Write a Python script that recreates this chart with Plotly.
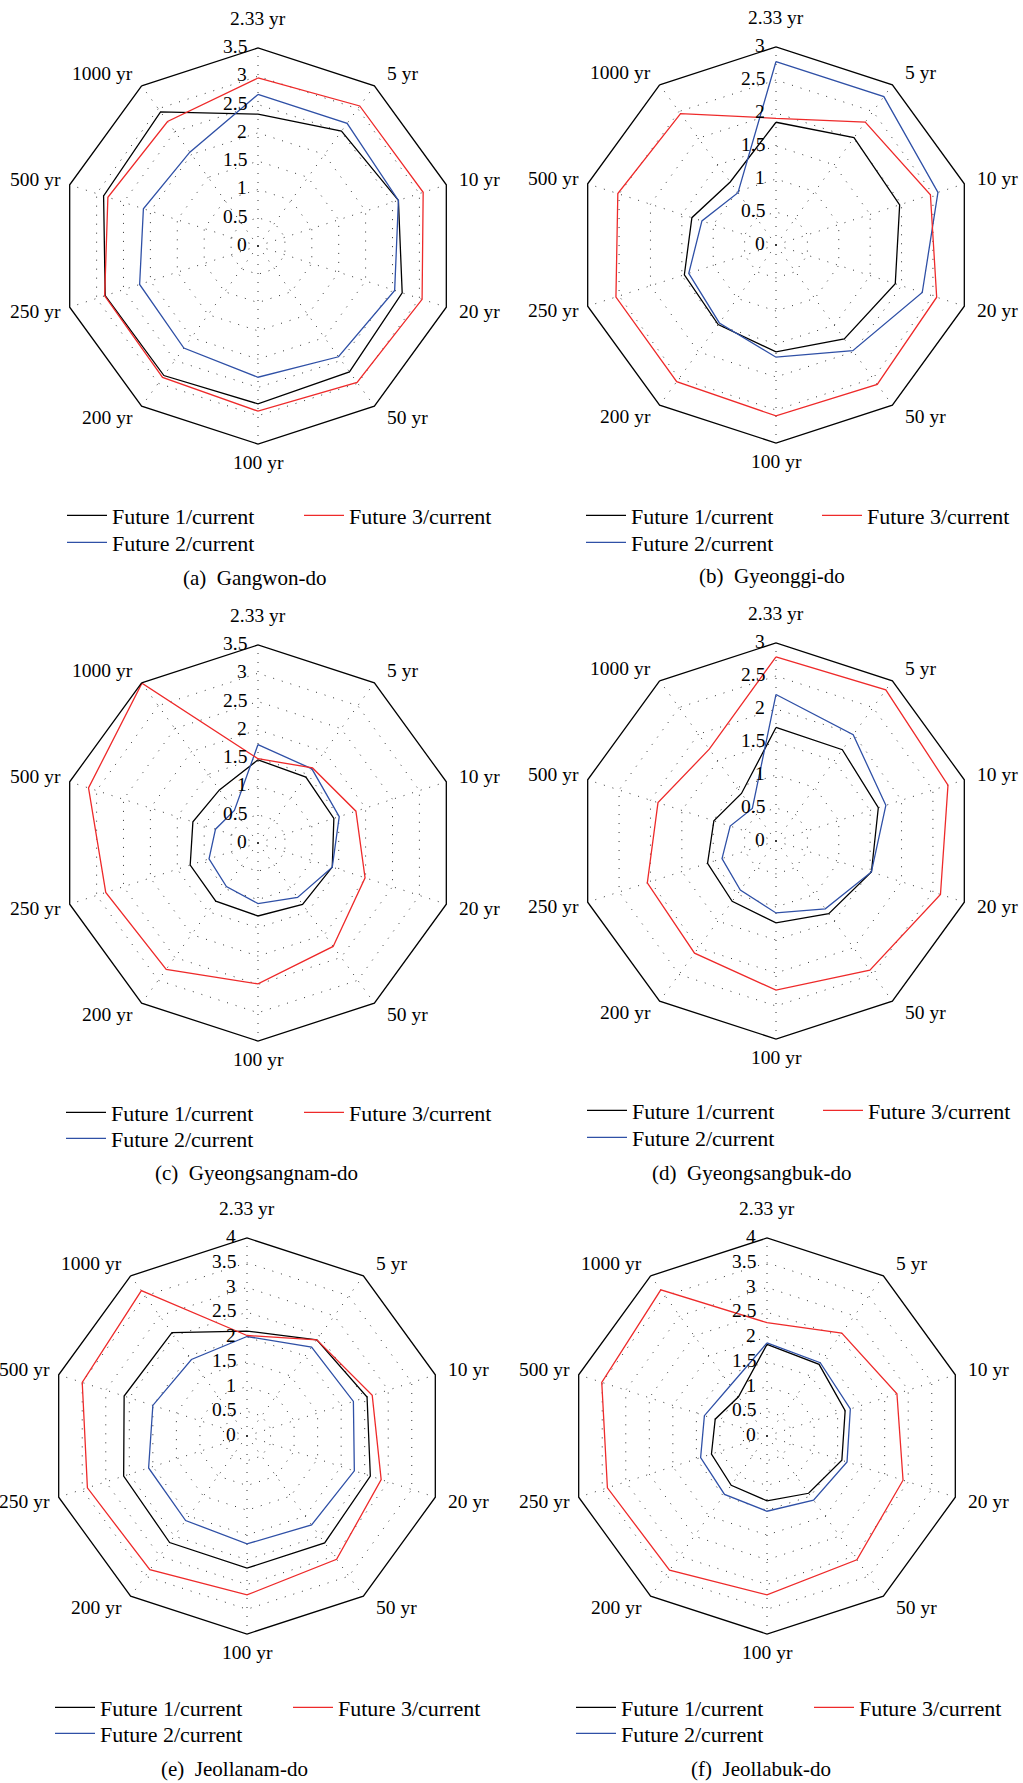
import math
import plotly.graph_objects as go

# ---------------- data ----------------
periods = ["2.33 yr", "5 yr", "10 yr", "20 yr", "50 yr", "100 yr",
           "200 yr", "250 yr", "500 yr", "1000 yr"]
series_names = ["Future 1/current", "Future 2/current", "Future 3/current"]

gangwon_f1 = [2.33, 2.51, 2.61, 2.68, 2.75, 2.79, 2.83, 2.84, 2.87, 2.93]
gangwon_f2 = [2.68, 2.68, 2.61, 2.54, 2.42, 2.32, 2.23, 2.20, 2.13, 2.05]
gangwon_f3 = [2.97, 3.06, 3.07, 3.05, 2.98, 2.92, 2.87, 2.85, 2.79, 2.72]

gyeonggi_f1 = [1.86, 2.01, 1.97, 1.90, 1.76, 1.62, 1.49, 1.46, 1.34, 1.18]
gyeonggi_f2 = [2.78, 2.78, 2.58, 2.33, 1.98, 1.70, 1.46, 1.39, 1.18, 0.98]
gyeonggi_f3 = [1.92, 2.30, 2.46, 2.56, 2.61, 2.59, 2.56, 2.55, 2.52, 2.46]

gyeongsangnam_f1 = [1.47, 1.44, 1.41, 1.38, 1.34, 1.29, 1.27, 1.26, 1.21, 1.16]
gyeongsangnam_f2 = [1.74, 1.62, 1.51, 1.38, 1.19, 1.07, 0.95, 0.91, 0.79, 0.71]
gyeongsangnam_f3 = [1.49, 1.64, 1.82, 1.99, 2.26, 2.49, 2.76, 2.83, 3.15, 3.49]

gyeongsangbuk_f1 = [1.72, 1.71, 1.63, 1.52, 1.36, 1.24, 1.13, 1.09, 0.99, 0.89]
gyeongsangbuk_f2 = [2.22, 1.99, 1.75, 1.52, 1.27, 1.09, 0.92, 0.86, 0.73, 0.61]
gyeongsangbuk_f3 = [2.79, 2.83, 2.74, 2.62, 2.42, 2.26, 2.10, 2.05, 1.88, 1.72]

jeollanam_f1 = [2.12, 2.40, 2.55, 2.62, 2.67, 2.67, 2.66, 2.62, 2.61, 2.58]
jeollanam_f2 = [2.01, 2.22, 2.26, 2.28, 2.22, 2.18, 2.11, 2.09, 2.00, 1.91]
jeollanam_f3 = [2.03, 2.40, 2.66, 2.85, 3.08, 3.21, 3.34, 3.39, 3.50, 3.63]

jeollabuk_f1 = [1.85, 1.79, 1.66, 1.59, 1.43, 1.31, 1.23, 1.18, 1.10, 0.98]
jeollabuk_f2 = [1.88, 1.83, 1.77, 1.70, 1.60, 1.52, 1.46, 1.41, 1.33, 1.26]
jeollabuk_f3 = [2.29, 2.57, 2.76, 2.89, 3.09, 3.21, 3.35, 3.39, 3.51, 3.65]

captions = ["(a)  Gangwon-do", "(b)  Gyeonggi-do", "(c)  Gyeongsangnam-do",
            "(d)  Gyeongsangbuk-do", "(e)  Jeollanam-do", "(f)  Jeollabuk-do"]
radial_max = [3.5, 3, 3.5, 3, 4, 4]
radial_step = 0.5

panel_values = [
    (gangwon_f1, gangwon_f2, gangwon_f3),
    (gyeonggi_f1, gyeonggi_f2, gyeonggi_f3),
    (gyeongsangnam_f1, gyeongsangnam_f2, gyeongsangnam_f3),
    (gyeongsangbuk_f1, gyeongsangbuk_f2, gyeongsangbuk_f3),
    (jeollanam_f1, jeollanam_f2, jeollanam_f3),
    (jeollabuk_f1, jeollabuk_f2, jeollabuk_f3),
]

# ---------------- layout geometry (pixels) ----------------
W, H = 1023, 1783
R = 198            # radius of outer polygon
TEXT_DY = 0.5      # small visual-centre correction for serif text
centers = [(258, 246), (776, 245), (258, 843), (776, 841), (247, 1436), (767, 1436)]
legend_pos = [(68, 305, 516, 543), (587, 823, 516, 543),
              (67, 305, 1113, 1139), (588, 824, 1111, 1138),
              (56, 294, 1708, 1734), (577, 815, 1708, 1734)]
caption_pos = [(254, 578), (772, 577), (256, 1173), (751, 1173), (234, 1769), (761, 1769)]

colors = ["#000000", "#2f50a6", "#ee2a2a"]
SERIF = "Liberation Serif, Times New Roman, serif"


def px_to_paper(x, y):
    return x / W, 1 - (y - TEXT_DY) / H


def fmt(v):
    return f"{v:g}"


fig = go.Figure()
layout_extra = {}
annotations = []
legend_idx = 0
for p in range(6):
    pname = "polar" if p == 0 else f"polar{p+1}"
    cx, cy = centers[p]
    rmax = radial_max[p]
    layout_extra[pname] = dict(
        domain=dict(x=[(cx - R) / W, (cx + R) / W],
                    y=[1 - (cy + R) / H, 1 - (cy - R) / H]),
        gridshape="linear",
        bgcolor="rgba(0,0,0,0)",
        radialaxis=dict(
            range=[0, rmax], dtick=radial_step, tick0=0,
            angle=90, showline=False, ticks="", showticklabels=False,
            showgrid=True, gridcolor="#333333", griddash="1px,8px", gridwidth=1,
            layer="above traces",
        ),
        angularaxis=dict(
            type="category", categoryarray=periods, categoryorder="array",
            direction="clockwise", rotation=90,
            showline=True, linecolor="#000", linewidth=1.3,
            showgrid=True, gridcolor="#333333", griddash="1px,8px", gridwidth=1,
            ticks="", showticklabels=False,
        ),
    )
    # radial tick labels, left of the vertical (2.33 yr) axis, one per grid ring
    nsteps = int(round(rmax / radial_step))
    for j in range(nsteps + 1):
        v = j * radial_step
        ty = cy - R * v / rmax
        ax_, ay_ = px_to_paper(cx - 9, ty - 1)
        annotations.append(dict(
            text=fmt(v), x=ax_, y=ay_, xref="paper", yref="paper",
            xanchor="right", yanchor="middle", showarrow=False,
            font=dict(family=SERIF, size=19.5, color="#000"),
        ))
    # category labels around the polygon, placed next to each axis vertex
    n = len(periods)
    for i, lab in enumerate(periods):
        ang = 2 * math.pi * i / n
        s, c = math.sin(ang), math.cos(ang)
        vx, vy = cx + R * s, cy - R * c
        if abs(s) < 0.1:
            xa, lx = "center", vx
            ly = vy - 29 if c > 0 else vy + 19
        elif s > 0:
            xa, lx, ly = "left", vx + 11, vy - 15 * c
        else:
            xa, lx, ly = "right", vx - 7, vy - 15 * c
        ax_, ay_ = px_to_paper(lx, ly)
        annotations.append(dict(
            text=lab, x=ax_, y=ay_, xref="paper", yref="paper",
            xanchor=xa, yanchor="middle", showarrow=False,
            font=dict(family=SERIF, size=19.5, color="#000"),
        ))

    lx1, lx2, ly1, ly2 = legend_pos[p]
    slots = [(lx1, ly1), (lx1, ly2), (lx2, ly1)]
    for k in range(3):
        vals = list(panel_values[p][k])
        legend_idx += 1
        lname = "legend" if legend_idx == 1 else f"legend{legend_idx}"
        fig.add_trace(go.Scatterpolar(
            r=vals + vals[:1], theta=periods + periods[:1],
            mode="lines", line=dict(color=colors[k], width=1.3),
            name=series_names[k], subplot=pname, legend=lname,
            showlegend=True,
        ))
        sx, sy = slots[k]
        layout_extra[lname] = dict(
            x=(sx - 6) / W, y=1 - (sy - TEXT_DY) / H, xanchor="left", yanchor="middle",
            orientation="v", bgcolor="rgba(0,0,0,0)", borderwidth=0,
            itemwidth=40, font=dict(family=SERIF, size=22, color="#000"),
        )
    ax_, ay_ = px_to_paper(*caption_pos[p])
    annotations.append(dict(
        text=captions[p], x=ax_, y=ay_, xref="paper", yref="paper",
        xanchor="center", yanchor="middle", showarrow=False,
        font=dict(family=SERIF, size=21, color="#000"),
    ))

fig.update_layout(
    width=W, height=H,
    margin=dict(l=0, r=0, t=0, b=0),
    paper_bgcolor="white", plot_bgcolor="white",
    annotations=annotations,
    **layout_extra,
)

# remove the browser's default 8px body margin so the figure fills the window
fig.write_html("out.html",
               config={"displayModeBar": False},
               post_script="document.body.style.margin='0';document.body.style.overflow='hidden';")
